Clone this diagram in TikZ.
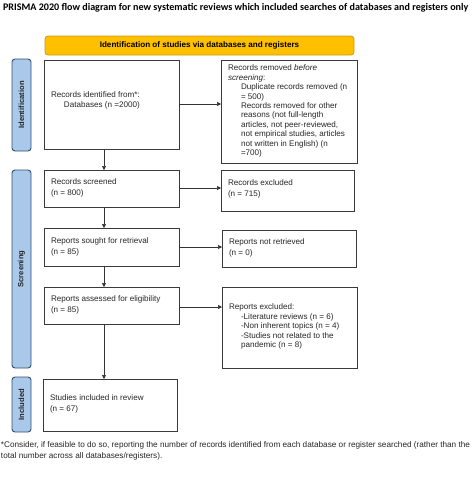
\documentclass[tikz,border=0pt]{standalone}
\usepackage{fontspec}
\setmainfont{Liberation Sans}
\newfontfamily\titlefont{Carlito}
\usetikzlibrary{arrows.meta}
\definecolor{hdr}{HTML}{FFC000}
\definecolor{hdrb}{HTML}{C99A1A}
\definecolor{side}{HTML}{A9C8EA}
\definecolor{sideb}{HTML}{34506F}
\definecolor{boxb}{HTML}{3A3A3A}
\begin{document}
\begin{tikzpicture}[x=1pt,y=-1pt,
  every node/.style={inner sep=0pt,outer sep=0pt},
  txt/.style={font=\fontsize{8.1}{10.3}\selectfont, align=left, anchor=north west, text=black!85},
  txtd/.style={txt, font=\fontsize{8.1}{9.4}\selectfont},
  boxs/.style={draw=boxb, line width=0.9pt},
  sideS/.style={draw=sideb, fill=side, line width=0.9pt, rounded corners=3pt},
  sidelab/.style={font=\bfseries\fontsize{7.6}{9}\selectfont, rotate=90, text=black!85},
  arr/.style={draw=black!80, line width=0.6pt, -{Triangle[length=4pt,width=4pt]}}]
\useasboundingbox (0,0) rectangle (474,477);
% title
\node[anchor=west, font=\titlefont\bfseries\fontsize{10.1}{12}\selectfont] (title) at (3,8) {PRISMA 2020 flow diagram for new systematic reviews which included searches of databases and registers only};
% header
\draw[draw=hdrb, fill=hdr, line width=0.8pt, rounded corners=3pt] (45,36) rectangle (354,55);
\node[font=\bfseries\fontsize{8.1}{9}\selectfont] (hdr) at (199.5,45.5) {Identification of studies via databases and registers};
% side boxes
\draw[sideS] (12,59) rectangle (31,151);
\node[sidelab] (sid1) at (21.5,105) {Identification};
\draw[sideS] (12,170) rectangle (31,368);
\node[sidelab] (sid2) at (21.5,269) {Screening};
\draw[sideS] (12,377) rectangle (31,432);
\node[sidelab] (sid3) at (21.5,404.5) {Included};
% boxes
\node[boxs, minimum width=135pt, minimum height=89pt, anchor=north west] (ident) at (44,60) {};
\node[txt] (identt) at (51,91.5) {Records identified from*:\\\hspace*{13pt}Databases (n =2000)};
\node[boxs, minimum width=136pt, minimum height=103pt, anchor=north west] (rem) at (221,60) {};
\node[txtd] (remt) at (228,65) {Records removed \textit{before}\\\textit{screening}:\\
\hspace*{13pt}Duplicate records removed (n\\\hspace*{13pt}= 500)\\
\hspace*{13pt}Records removed for other\\\hspace*{13pt}reasons (not full-length\\\hspace*{13pt}articles, not peer-reviewed,\\\hspace*{13pt}not empirical studies, articles\\\hspace*{13pt}not written in English) (n\\\hspace*{13pt}=700)};
\node[boxs, minimum width=135pt, minimum height=37pt, anchor=north west] (scr) at (44,170) {};
\node[txt] (scrt) at (51,179) {Records screened\\(n = 800)};
\node[boxs, minimum width=133pt, minimum height=41pt, anchor=north west] (exc) at (221,170) {};
\node[txt] (exct) at (228,180) {Records excluded\\(n = 715)};
\node[boxs, minimum width=135pt, minimum height=38pt, anchor=north west] (sought) at (44,228) {};
\node[txt] (soughtt) at (51,238) {Reports sought for retrieval\\(n = 85)};
\node[boxs, minimum width=134pt, minimum height=37pt, anchor=north west] (notret) at (222,230) {};
\node[txt] (notrett) at (229,239) {Reports not retrieved\\(n = 0)};
\node[boxs, minimum width=135pt, minimum height=37pt, anchor=north west] (assess) at (44,287) {};
\node[txt] (assesst) at (51,296) {Reports assessed for eligibility\\(n = 85)};
\node[boxs, minimum width=135pt, minimum height=81pt, anchor=north west] (rexc) at (222,287) {};
\node[txtd] (rexct) at (229,304) {Reports excluded:\\
\hspace*{12pt}-Literature reviews (n = 6)\\\hspace*{12pt}-Non inherent topics (n = 4)\\\hspace*{12pt}-Studies not related to the\\\hspace*{12pt}pandemic (n = 8)};
\node[boxs, minimum width=134pt, minimum height=52pt, anchor=north west] (incl) at (43,379) {};
\node[txt] (inclt) at (50,395) {Studies included in review\\(n = 67)};
% arrows
\draw[arr] (ident.east |- 0,104) -- (rem.west |- 0,104);
\draw[arr] (ident.south -| 104,0) -- (scr.north -| 104,0);
\draw[arr] (scr.east |- 0,188) -- (exc.west |- 0,188);
\draw[arr] (scr.south -| 104,0) -- (sought.north -| 104,0);
\draw[arr] (sought.east |- 0,247) -- (notret.west |- 0,247);
\draw[arr] (sought.south -| 104,0) -- (assess.north -| 104,0);
\draw[arr] (assess.east |- 0,307) -- (rexc.west |- 0,307);
\draw[arr] (assess.south -| 104,0) -- (incl.north -| 104,0);
% footnote
\node[txt, font=\fontsize{8.2}{10.8}\selectfont] (foot) at (1,442) {*Consider, if feasible to do so, reporting the number of records identified from each database or register searched (rather than the\\total number across all databases/registers).};
\end{tikzpicture}
\end{document}
